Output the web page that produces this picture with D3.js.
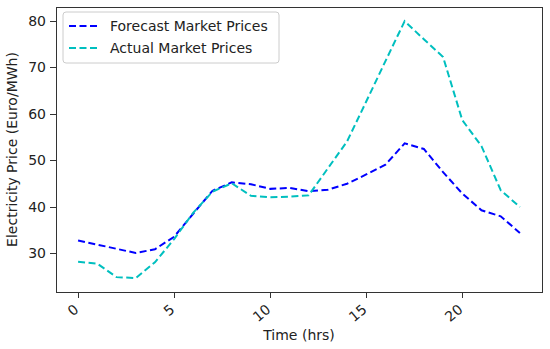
<!DOCTYPE html>
<html>
<head>
<meta charset="utf-8">
<title>market prices</title>
<script src="https://cdn.jsdelivr.net/npm/d3@7"></script>
<style>
  body { margin: 0; background: #fff; }
  svg text { font-family: "DejaVu Sans", sans-serif; fill: #222; }
  .axis path, .axis line { stroke: #333; shape-rendering: crispEdges; }
</style>
</head>
<body>
<script>
// hours of the day
var hours = d3.range(0, 24);
// forecast (blue) and actual (cyan) prices, Euro/MWh
var forecast = [32.7, 31.8, 30.9, 30.0, 30.8, 33.5, 38.5, 43.4, 45.2, 44.8, 43.8, 44.0,
                43.3, 43.6, 44.9, 46.9, 49.0, 53.6, 52.4, 47.4, 42.8, 39.2, 37.9, 34.3];
var actual = [28.1, 27.7, 24.8, 24.6, 28.0, 33.0, 38.7, 43.2, 45.0, 42.3, 42.0, 42.1,
              42.4, 48.2, 54.0, 62.6, 71.3, 79.9, 76.0, 72.2, 58.6, 53.0, 43.5, 39.9];
var xTicks = [0, 5, 10, 15, 20];
var yTicks = [30, 40, 50, 60, 70, 80];

var width = 550, height = 349;
var margin = {left: 56, right: 8, top: 7, bottom: 57};

var svg = d3.select('body').append('svg')
  .attr('width', width).attr('height', height);

var x = d3.scaleLinear().domain([-1.15, 24.15])
  .range([margin.left, width - margin.right]);
var y = d3.scaleLinear().domain([21.6, 82.95])
  .range([height - margin.bottom, margin.top]);

// frame
svg.append('rect')
  .attr('x', margin.left).attr('y', margin.top)
  .attr('width', width - margin.left - margin.right)
  .attr('height', height - margin.top - margin.bottom)
  .attr('fill', 'none').attr('stroke', '#333').attr('stroke-width', 1)
  .attr('shape-rendering', 'crispEdges');

var xAxis = svg.append('g').attr('class', 'axis')
  .attr('transform', 'translate(0,' + (height - margin.bottom) + ')')
  .call(d3.axisBottom(x).tickValues(xTicks).tickSize(6).tickPadding(4));
xAxis.select('.domain').remove();
xAxis.selectAll('text')
  .style('font-size', '14px')
  .attr('text-anchor', 'end')
  .attr('y', 0).attr('dy', 0)
  .attr('transform', 'translate(1,19) rotate(-40)');

var yAxis = svg.append('g').attr('class', 'axis')
  .attr('transform', 'translate(' + margin.left + ',0)')
  .call(d3.axisLeft(y).tickValues(yTicks).tickSize(6).tickPadding(4));
yAxis.select('.domain').remove();
yAxis.selectAll('text').style('font-size', '14px');

svg.append('text')
  .attr('x', (margin.left + width - margin.right) / 2)
  .attr('y', 340)
  .attr('text-anchor', 'middle')
  .style('font-size', '14px')
  .text('Time (hrs)');

svg.append('text')
  .attr('transform', 'translate(17,' + ((margin.top + height - margin.bottom) / 2) + ') rotate(-90)')
  .attr('text-anchor', 'middle')
  .style('font-size', '14px')
  .text('Electricity Price (Euro/MWh)');

var line = d3.line()
  .x(function(d, i) { return x(hours[i]); })
  .y(function(d) { return y(d); });

var series = [
  {name: 'Forecast Market Prices', values: forecast, color: '#0000ff'},
  {name: 'Actual Market Prices', values: actual, color: '#00bfbf'}
];

series.forEach(function(s) {
  svg.append('path')
    .datum(s.values)
    .attr('d', line)
    .attr('fill', 'none')
    .attr('stroke', s.color)
    .attr('stroke-width', 2)
    .attr('stroke-dasharray', '7,3.5');
});

// legend
var legend = svg.append('g').attr('transform', 'translate(63,12)');
legend.append('rect')
  .attr('width', 216).attr('height', 51).attr('rx', 3)
  .attr('fill', '#fff').attr('fill-opacity', 0.8)
  .attr('stroke', '#ccc');
series.forEach(function(s, i) {
  var ly = 14 + i * 22;
  legend.append('line')
    .attr('x1', 6).attr('x2', 35).attr('y1', ly).attr('y2', ly)
    .attr('stroke', s.color).attr('stroke-width', 2)
    .attr('stroke-dasharray', '7,3.5');
  legend.append('text')
    .attr('x', 47).attr('y', ly).attr('dy', '0.35em')
    .style('font-size', '14px')
    .text(s.name);
});
</script>
</body>
</html>
